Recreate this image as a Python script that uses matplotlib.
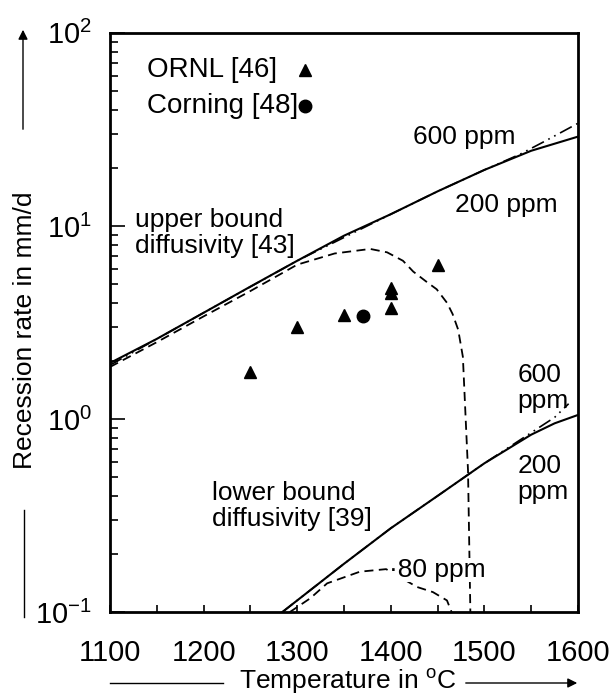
import matplotlib
matplotlib.use("Agg")
import matplotlib.pyplot as plt
from matplotlib.lines import Line2D

plt.rcParams["font.family"] = ["Liberation Sans", "DejaVu Sans"]
plt.rcParams["mathtext.fontset"] = "custom"
plt.rcParams["mathtext.rm"] = "Liberation Sans"
plt.rcParams["mathtext.default"] = "regular"

# upper bound diffusivity [43]
T_UP = [1100, 1150, 1200, 1250, 1300, 1350, 1400, 1450, 1500, 1550, 1600]
UP_200 = [1.95, 2.6, 3.55, 4.85, 6.6, 8.9, 11.5, 15.1, 19.5, 24.5, 29]
T_UP_600 = [1100, 1200, 1300, 1400, 1450, 1500, 1538, 1563, 1600]
UP_600 = [1.9, 3.55, 6.6, 11.5, 15.1, 19.5, 23.5, 27.2, 34]
T_UP_80 = [1100, 1150, 1200, 1250, 1300, 1340, 1378, 1396, 1413, 1424, 1439,
           1449, 1460, 1466, 1472, 1477, 1482.5, 1485]
UP_80 = [1.86, 2.5, 3.4, 4.6, 6.3, 7.2, 7.6, 7.3, 6.6, 5.8, 5.1,
         4.7, 4.0, 3.5, 2.9, 2.1, 0.54, 0.1]

# lower bound diffusivity [39]
T_LO = [1284, 1300, 1350, 1400, 1450, 1500, 1550, 1575, 1600]
LO_200 = [0.1, 0.115, 0.178, 0.272, 0.40, 0.59, 0.83, 0.95, 1.05]
T_LO_600 = [1284, 1350, 1400, 1450, 1500, 1550, 1575, 1590]
LO_600 = [0.1, 0.178, 0.272, 0.40, 0.59, 0.85, 1.02, 1.2]
T_LO_80 = [1292, 1314, 1332, 1367, 1395, 1428, 1445, 1460, 1465]
LO_80 = [0.1, 0.118, 0.141, 0.162, 0.167, 0.135, 0.127, 0.115, 0.1]

# measurements
ORNL_T = [1250, 1300, 1350, 1400, 1400, 1400, 1450]
ORNL_R = [1.75, 3.0, 3.46, 4.78, 4.5, 3.76, 6.3]
CORNING_T = [1370]
CORNING_R = [3.42]

fig = plt.figure(figsize=(6.11, 6.98), dpi=100)
ax = fig.add_axes([0.180, 0.123, 0.766, 0.830])

dashdot = (0, (8, 3, 1, 3, 1, 3))
dashed = (0, (5, 3))
ax.plot(T_UP, UP_200, color="black", lw=1.5)
ax.plot(T_UP_600, UP_600, color="black", lw=1.2, ls=dashdot)
ax.plot(T_UP_80, UP_80, color="black", lw=1.3, ls=dashed)
ax.plot(T_LO, LO_200, color="black", lw=1.5)
ax.plot(T_LO_600, LO_600, color="black", lw=1.2, ls=dashdot)
ax.plot(T_LO_80, LO_80, color="black", lw=1.3, ls=dashed)

ax.plot(ORNL_T, ORNL_R, "^", color="black", ms=9, ls="none")
ax.plot(CORNING_T, CORNING_R, "o", color="black", ms=9, ls="none")

# key, drawn by hand so the labels stay left-aligned with markers in one column
for label, marker, yk in [("ORNL [46]", "^", 0.936), ("Corning [48]", "o", 0.874)]:
    ax.text(0.079, yk, label, transform=ax.transAxes, fontsize=20, va="center")
    ax.plot([0.417], [yk], marker, color="black", ms=9, transform=ax.transAxes)

fs = 19
ax.text(1127, 9.2, "upper bound\ndiffusivity [43]", fontsize=fs, va="center", linespacing=1.1)
ax.text(1424, 28.9, "600 ppm", fontsize=fs, va="center")
ax.text(1469, 12.9, "200 ppm", fontsize=fs, va="center")
ax.text(1535, 1.45, "600\nppm", fontsize=fs, va="center", linespacing=1.1)
ax.text(1535, 0.49, "200\nppm", fontsize=fs, va="center", linespacing=1.1)
ax.text(1209, 0.355, "lower bound\ndiffusivity [39]", fontsize=fs, va="center", linespacing=1.1)
ax.text(1398, 0.165, "·80 ppm", fontsize=fs, va="center",
        bbox=dict(facecolor="white", edgecolor="none", pad=0))

ax.set_yscale("log")
ax.set_xlim(1100, 1600)
ax.set_ylim(0.1, 100)
ax.set_xticks([1100, 1200, 1300, 1400, 1500, 1600])
ax.set_xticks([1150, 1250, 1350, 1450, 1550], minor=True)
ax.set_yticks([0.1, 1, 10, 100])
ax.set_yticklabels(["$10^{-1}$", "$10^{0}$", "$10^{1}$", "$10^{2}$"])
ax.tick_params(axis="x", which="both", direction="in", length=5, width=1.2,
               labelsize=21, pad=19, top=False)
ax.tick_params(axis="y", which="major", direction="in", length=11, width=1.2,
               labelsize=21, pad=13, right=False)
ax.tick_params(axis="y", which="minor", direction="in", length=6, width=1.2, right=False)
for s in ax.spines.values():
    s.set_linewidth(2)

fig.text(25 / 611, 1 - 330 / 698, "Recession rate in mm/d", rotation=90,
         fontsize=19, ha="center", va="center")
fig.text(348 / 611, 1 - 681 / 698, "Temperature in $^{o}$C", fontsize=19,
         ha="center", va="center")

arrow = dict(arrowstyle="-|>", lw=1, color="black", mutation_scale=14)
ax.annotate("", xy=(23 / 611, 1 - 27 / 698), xytext=(23 / 611, 1 - 132 / 698),
            xycoords="figure fraction", textcoords="figure fraction", arrowprops=arrow)
ax.annotate("", xy=(580 / 611, 1 - 683 / 698), xytext=(463 / 611, 1 - 683 / 698),
            xycoords="figure fraction", textcoords="figure fraction", arrowprops=arrow)
fig.add_artist(Line2D([24 / 611, 24 / 611], [1 - 510 / 698, 1 - 617 / 698], color="black", lw=1))
fig.add_artist(Line2D([110 / 611, 223 / 611], [1 - 683 / 698, 1 - 683 / 698], color="black", lw=1))

fig.savefig("out.png", dpi=100)
